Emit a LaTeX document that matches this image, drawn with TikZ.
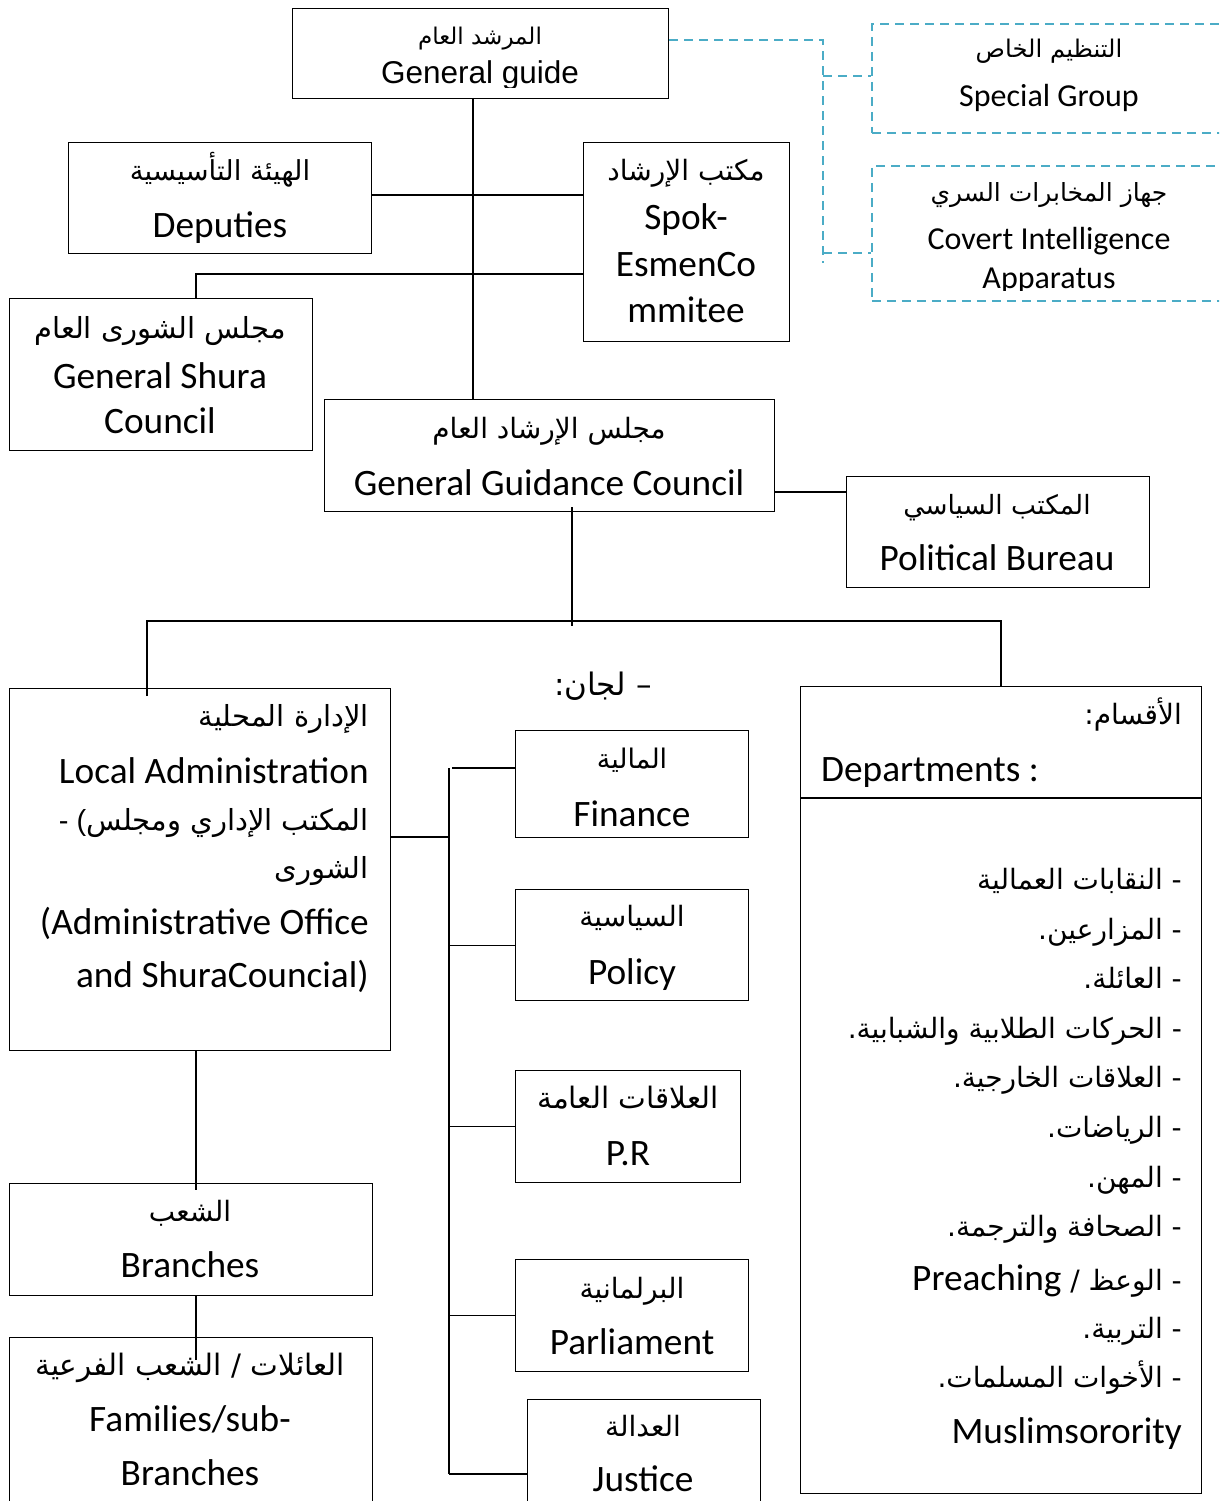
\documentclass[tikz,border=0pt]{standalone}
\usepackage{fontspec}
\setmainfont{Carlito}
\newfontfamily\arf[Script=Arabic]{DejaVu Sans}
\newfontfamily\arialf{Liberation Sans}
\newfontfamily\carlf{Carlito}
\TeXXeTstate=1
\definecolor{dashc}{RGB}{75,172,198}
\tikzset{
  box/.style={draw, line width=1.4pt, inner sep=0pt, anchor=north west},
  dbox/.style={box, draw=dashc, dash pattern=on 9pt off 6pt, line width=1.6pt},
  en/.style={anchor=base, inner sep=0pt, font=\fontsize{37.3}{40}\selectfont\carlf},
  ensm/.style={anchor=base, inner sep=0pt, font=\fontsize{32}{36}\selectfont\carlf},
  ar/.style={anchor=base, inner sep=0pt, font=\fontsize{28}{32}\selectfont\arf},
  arsz/.style={font=\fontsize{#1}{#1}\selectfont\arf},
  conn/.style={draw, line width=1.4pt},
  dashconn/.style={draw=dashc, line width=1.6pt, dash pattern=on 9pt off 6pt},
}
\begin{document}
\begin{tikzpicture}[x=1pt,y=-1pt]
\useasboundingbox (0,0) rectangle (1219,1501);
\clip (0,0) rectangle (1219,1501);
% ---------- boxes ----------
\node[box, minimum width=376pt, minimum height=90pt] (gg) at (292,8) {};
\node[dbox, minimum width=359pt, minimum height=109pt] (sg) at (871,23) {};
\node[dbox, minimum width=359pt, minimum height=135pt] (ci) at (871,165) {};
\node[box, minimum width=303pt, minimum height=111pt] (dep) at (68,142) {};
\node[box, minimum width=206pt, minimum height=199pt] (spk) at (583,142) {};
\node[box, minimum width=303pt, minimum height=152pt] (shura) at (9,298) {};
\node[box, minimum width=450pt, minimum height=112pt] (ggc) at (324,399) {};
\node[box, minimum width=303pt, minimum height=111pt] (pb) at (846,476) {};
\node[box, minimum width=381pt, minimum height=362pt] (loc) at (9,688) {};
\node[box, minimum width=233pt, minimum height=107pt] (fin) at (515,730) {};
\node[box, minimum width=233pt, minimum height=111pt] (pol) at (515,889) {};
\node[box, minimum width=225pt, minimum height=112pt] (pr) at (515,1070) {};
\node[box, minimum width=233pt, minimum height=112pt] (par) at (515,1259) {};
\node[box, minimum width=233pt, minimum height=130pt] (jus) at (527,1399) {};
\node[box, minimum width=401pt, minimum height=807pt] (dept) at (800,686) {};
\node[box, minimum width=363pt, minimum height=112pt] (br) at (9,1183) {};
\node[box, minimum width=363pt, minimum height=190pt] (fam) at (9,1337) {};
% ---------- helper coordinates ----------
\coordinate (spine) at (473,98);
\coordinate (ydep) at (0,195);
\coordinate (shj) at (196,274);
\coordinate (dv) at (823,40);
\coordinate (dvb) at (823,263);
\coordinate (ysg) at (0,76);
\coordinate (yci) at (0,253);
\coordinate (ypb) at (0,492);
\coordinate (hubtop) at (572,507);
\coordinate (hubbot) at (572,626);
\coordinate (lft) at (147,621);
\coordinate (lftb) at (147,696);
\coordinate (rgt) at (1001,621);
\coordinate (bus) at (449,837);
\coordinate (bustop) at (449,768);
\coordinate (busbot) at (449,1474);
\coordinate (brx) at (196,1050);
\coordinate (brxb) at (196,1190);
\coordinate (famx) at (196,1360);
\coordinate (divl) at (800,798);
\coordinate (divr) at (1201,798);
% ---------- connectors ----------
\draw[conn] (spine) -- (spine |- ggc.north);
\draw[conn] (dep.east |- ydep) -- (spk.west |- ydep);
\draw[conn] (spk.west |- shj) -- (shj) -- (shj |- shura.north);
\draw[dashconn] (gg.east |- dv) -- (dv) -- (dvb);
\draw[dashconn] (dv |- ysg) -- (sg.west |- ysg);
\draw[dashconn] (dv |- yci) -- (ci.west |- yci);
\draw[conn] (ggc.east |- ypb) -- (pb.west |- ypb);
\draw[conn] (hubtop) -- (hubbot);
\draw[conn] (lftb) -- (lft) -- (rgt) -- (rgt |- dept.north);
\draw[conn] (loc.east |- bus) -- (bus);
\draw[conn] (bustop) -- (busbot);
\draw[conn] ([xshift=3pt]bustop) -- (fin.west |- bustop);
\draw[conn] (bus |- pol.west) -- (pol.west);
\draw[conn] (bus |- pr.west) -- (pr.west);
\draw[conn] (bus |- par.west) -- (par.west);
\draw[conn] (busbot) -- (jus.west |- busbot);
\draw[conn] (brx) -- (brxb);
\draw[conn] (brx |- br.south) -- (famx);
\draw[conn] (divl) -- (divr);
% ---------- texts ----------
\node[ar, arsz=23] (t1) at (480,45) {\beginR المرشد العام\endR};
\begin{scope}
\clip (292,8) rectangle (668,88);
\node[anchor=base, inner sep=0pt, font=\fontsize{31.5}{36}\selectfont\arialf] (t2) at (480,84) {General guide};
\end{scope}
\node[ar, arsz=24.3] (t3) at (1049,58) {\beginR التنظيم الخاص\endR};
\node[ensm] (t4) at (1049,107) {Special Group};
\node[ar, arsz=25] (t5) at (1049,201) {\beginR جهاز المخابرات السري\endR};
\node[ensm] (t6) at (1049,249) {Covert Intelligence};
\begin{scope}
\clip (871,160) rectangle (1219,290);
\node[ensm] (t7) at (1049,288) {Apparatus};
\end{scope}
\node[ar, arsz=27.5] (t8) at (220,180) {\beginR الهيئة التأسيسية\endR};
\node[en] (t9) at (220,237) {Deputies};
\node[ar] (t10) at (686,180) {\beginR مكتب الإرشاد\endR};
\node[en] (t11) at (686,229) {Spok-};
\node[en] (t12) at (686,276) {EsmenCo};
\node[en] (t13) at (686,322) {mmitee};
\node[ar, arsz=29] (t14) at (160,338) {\beginR مجلس الشورى العام\endR};
\node[en] (t15) at (160,388) {General Shura};
\node[en] (t16) at (160,433) {Council};
\node[ar] (t17) at (549,438) {\beginR مجلس الإرشاد العام\endR};
\node[en] (t18) at (549,495) {General Guidance Council};
\node[ar, arsz=26.5] (t19) at (997,514) {\beginR المكتب السياسي\endR};
\node[en] (t20) at (997,570) {Political Bureau};
\node[ar, arsz=31] (t21) at (603,695) {\beginR – لجان:\endR};
% local administration
\node[ar, arsz=29, anchor=base east] (t22) at (369,726) {\beginR الإدارة المحلية\endR};
\node[en, anchor=base east] (t23) at (369,783) {Local Administration};
\node[ar, arsz=29, anchor=base east] (t24) at (369,830) {{\fontsize{29}{32}\selectfont\arialf - (}\beginR المكتب الإداري ومجلس\endR};
\node[ar, arsz=29, anchor=base east] (t25) at (369,878) {\beginR الشورى\endR};
\node[en, anchor=base east] (t26) at (369,934) {(Administrative Office};
\node[en, anchor=base east] (t27) at (369,987) {and ShuraCouncial)};
% committees
\node[ar, arsz=27] (t28) at (632,768) {\beginR المالية\endR};
\node[en] (t29) at (632,826) {Finance};
\node[ar] (t30) at (632,926) {\beginR السياسية\endR};
\node[en] (t31) at (632,984) {Policy};
\node[ar, arsz=29.5] (t32) at (628,1108) {\beginR العلاقات العامة\endR};
\node[en] (t33) at (628,1165) {P.R};
\node[ar] (t34) at (632,1298) {\beginR البرلمانية\endR};
\node[en] (t35) at (632,1354) {Parliament};
\node[ar] (t36) at (643,1436) {\beginR العدالة\endR};
\begin{scope}
\clip (527,1399) rectangle (760,1492);
\node[en] (t37) at (643,1491) {Justice};
\end{scope}
% departments
\node[ar, anchor=base east] (t38) at (1182,724) {\beginR الأقسام:\endR};
\node[en, anchor=base west] (t39) at (821,781) {Departments :};
\node[ar, anchor=base east] (d1) at (1182,889) {\beginR - النقابات العمالية\endR};
\node[ar, anchor=base east] (d2) at (1182,939) {\beginR - المزارعين.\endR};
\node[ar, anchor=base east] (d3) at (1182,988) {\beginR - العائلة.\endR};
\node[ar, anchor=base east] (d4) at (1182,1038) {\beginR - الحركات الطلابية والشبابية.\endR};
\node[ar, anchor=base east] (d5) at (1182,1087) {\beginR - العلاقات الخارجية.\endR};
\node[ar, anchor=base east] (d6) at (1182,1137) {\beginR - الرياضات.\endR};
\node[ar, anchor=base east] (d7) at (1182,1187) {\beginR - المهن.\endR};
\node[ar, anchor=base east] (d8) at (1182,1236) {\beginR - الصحافة والترجمة.\endR};
\node[ar, anchor=base east] (d9) at (1182,1290) {\beginR - الوعظ / \beginL{\fontsize{37.3}{40}\selectfont\carlf Preaching}\endL\endR};
\node[ar, anchor=base east] (d10) at (1182,1338) {\beginR - التربية.\endR};
\node[ar, anchor=base east] (d11) at (1182,1387) {\beginR - الأخوات المسلمات.\endR};
\node[en, anchor=base east] (d12) at (1182,1443) {Muslimsorority};
% branches
\node[ar] (t40) at (190,1221) {\beginR الشعب\endR};
\node[en] (t41) at (190,1277) {Branches};
\node[ar, arsz=29.5] (t42) at (190,1375) {\beginR العائلات / الشعب الفرعية\endR};
\node[en] (t43) at (190,1431) {Families/sub-};
\node[en] (t44) at (190,1485) {Branches};
\end{tikzpicture}
\end{document}
